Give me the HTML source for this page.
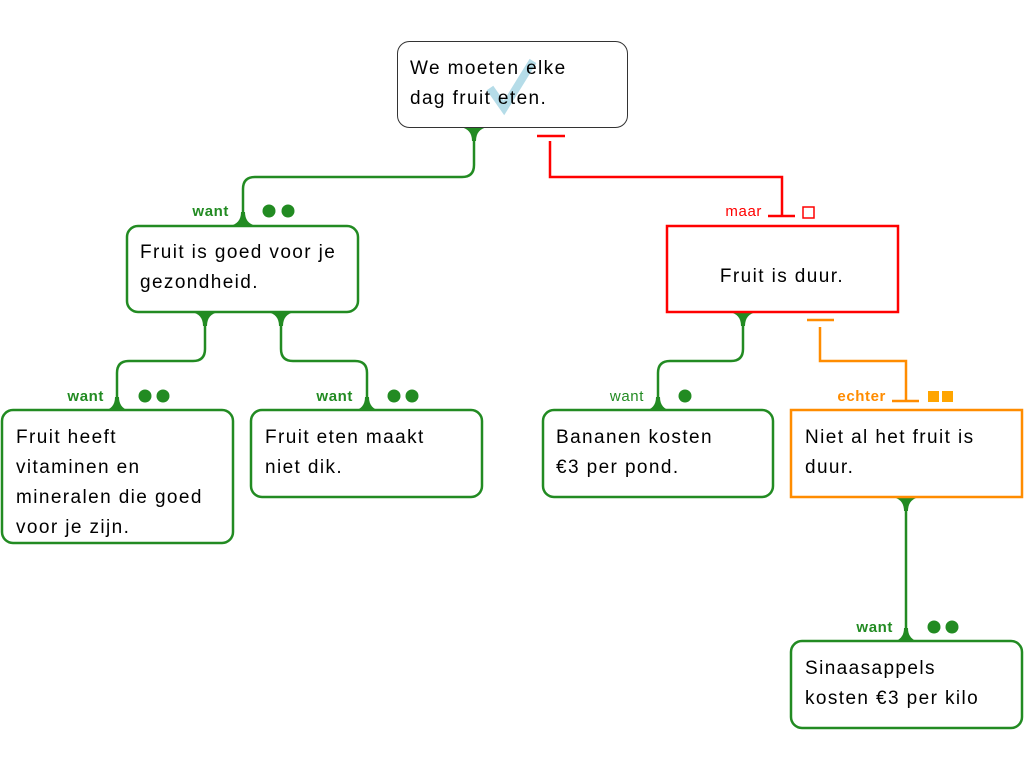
<!DOCTYPE html>
<html><head><meta charset="utf-8"><style>
html,body{margin:0;padding:0;background:#fff;width:1024px;height:768px;overflow:hidden}
svg{display:block}
text{font-family:"Liberation Sans",sans-serif}
.t{font-size:19px;fill:#000;letter-spacing:1.4px}
.g{fill:none;stroke:#228b22;stroke-width:2.5}
.l{font-size:15px;letter-spacing:0.6px}
</style></head><body>
<svg width="1024" height="768" viewBox="0 0 1024 768">
<g class="g">
<path d="M474 127 V165 Q474 177 462 177 H255 Q243 177 243 189 V225"/>
<path d="M205 312 V349 Q205 361 193 361 H129 Q117 361 117 373 V410"/>
<path d="M281 312 V349 Q281 361 293 361 H355 Q367 361 367 373 V410"/>
<path d="M743 312 V349 Q743 361 731 361 H670 Q658 361 658 373 V410"/>
<path d="M906 497 V641"/>
</g>
<g fill="#228b22">
<path d="M460 127 Q472 129 472 141 L476 141 Q476 129 488 127Z"/>
<path d="M229 226 Q241 224 241 212 L245 212 Q245 224 257 226Z"/>
<path d="M191 312 Q203 314 203 326 L207 326 Q207 314 219 312Z"/>
<path d="M267 312 Q279 314 279 326 L283 326 Q283 314 295 312Z"/>
<path d="M103 411 Q115 409 115 397 L119 397 Q119 409 131 411Z"/>
<path d="M353 411 Q365 409 365 397 L369 397 Q369 409 381 411Z"/>
<path d="M729 312 Q741 314 741 326 L745 326 Q745 314 757 312Z"/>
<path d="M644 411 Q656 409 656 397 L660 397 Q660 409 672 411Z"/>
<path d="M892 497 Q904 499 904 511 L908 511 Q908 499 920 497Z"/>
<path d="M892 642 Q904 640 904 628 L908 628 Q908 640 920 642Z"/>
<circle cx="269" cy="211" r="6.5"/><circle cx="288" cy="211" r="6.5"/>
<circle cx="145" cy="396" r="6.5"/><circle cx="163" cy="396" r="6.5"/>
<circle cx="394" cy="396" r="6.5"/><circle cx="412" cy="396" r="6.5"/>
<circle cx="685" cy="396" r="6.5"/>
<circle cx="934" cy="627" r="6.5"/><circle cx="952" cy="627" r="6.5"/>
</g>
<g stroke="#f00" stroke-width="2.5" fill="none">
<path d="M537 136 H565"/>
<path d="M550 141 V177 H782 V216"/>
<path d="M768 216 H795"/>
<rect x="803" y="207" width="11" height="11" stroke-width="1.5"/>
<rect x="667" y="226" width="231" height="86"/>
</g>
<text class="l" x="762" y="216" fill="#f00" text-anchor="end">maar</text>
<g stroke="#ff8c00" stroke-width="2.5" fill="none">
<path d="M807 320 H834"/>
<path d="M820 327 V361 H906 V401"/>
<path d="M892 401 H919"/>
<rect x="791" y="410" width="231" height="87"/>
</g>
<rect x="928" y="391" width="11" height="11" fill="#ffa500"/>
<rect x="942" y="391" width="11" height="11" fill="#ffa500"/>
<text class="l" x="886" y="401" font-weight="bold" fill="#ff8c00" text-anchor="end">echter</text>
<rect x="397.5" y="41.5" width="230" height="86" rx="12" fill="none" stroke="#333" stroke-width="1"/>
<g fill="#fff" stroke="#228b22" stroke-width="2.5">
<rect x="127" y="226" width="231" height="86" rx="11"/>
<rect x="2" y="410" width="231" height="133" rx="11"/>
<rect x="251" y="410" width="231" height="87" rx="11"/>
<rect x="543" y="410" width="230" height="87" rx="11"/>
<rect x="791" y="641" width="231" height="87" rx="11"/>
</g>
<path d="M490 88 L504 108 L533 61" fill="none" stroke="#add8e6" stroke-width="8" opacity="0.9"/>
<g class="l" font-weight="bold" fill="#228b22" text-anchor="end">
<text x="229" y="216">want</text>
<text x="104" y="401">want</text>
<text x="353" y="401">want</text>
<text x="893" y="632">want</text>
</g>
<text class="l" x="644" y="401" fill="#228b22" text-anchor="end">want</text>
<text class="t" x="410" y="74">We moeten elke</text>
<text class="t" x="410" y="104">dag fruit eten.</text>
<text class="t" x="140" y="258">Fruit is goed voor je</text>
<text class="t" x="140" y="288">gezondheid.</text>
<text class="t" x="782" y="282" text-anchor="middle">Fruit is duur.</text>
<text class="t" x="16" y="443">Fruit heeft</text>
<text class="t" x="16" y="473">vitaminen en</text>
<text class="t" x="16" y="503">mineralen die goed</text>
<text class="t" x="16" y="533">voor je zijn.</text>
<text class="t" x="265" y="443">Fruit eten maakt</text>
<text class="t" x="265" y="473">niet dik.</text>
<text class="t" x="556" y="443">Bananen kosten</text>
<text class="t" x="556" y="473">€3 per pond.</text>
<text class="t" x="805" y="443">Niet al het fruit is</text>
<text class="t" x="805" y="473">duur.</text>
<text class="t" x="805" y="674">Sinaasappels</text>
<text class="t" x="805" y="704">kosten €3 per kilo</text>
</svg>
</body></html>
